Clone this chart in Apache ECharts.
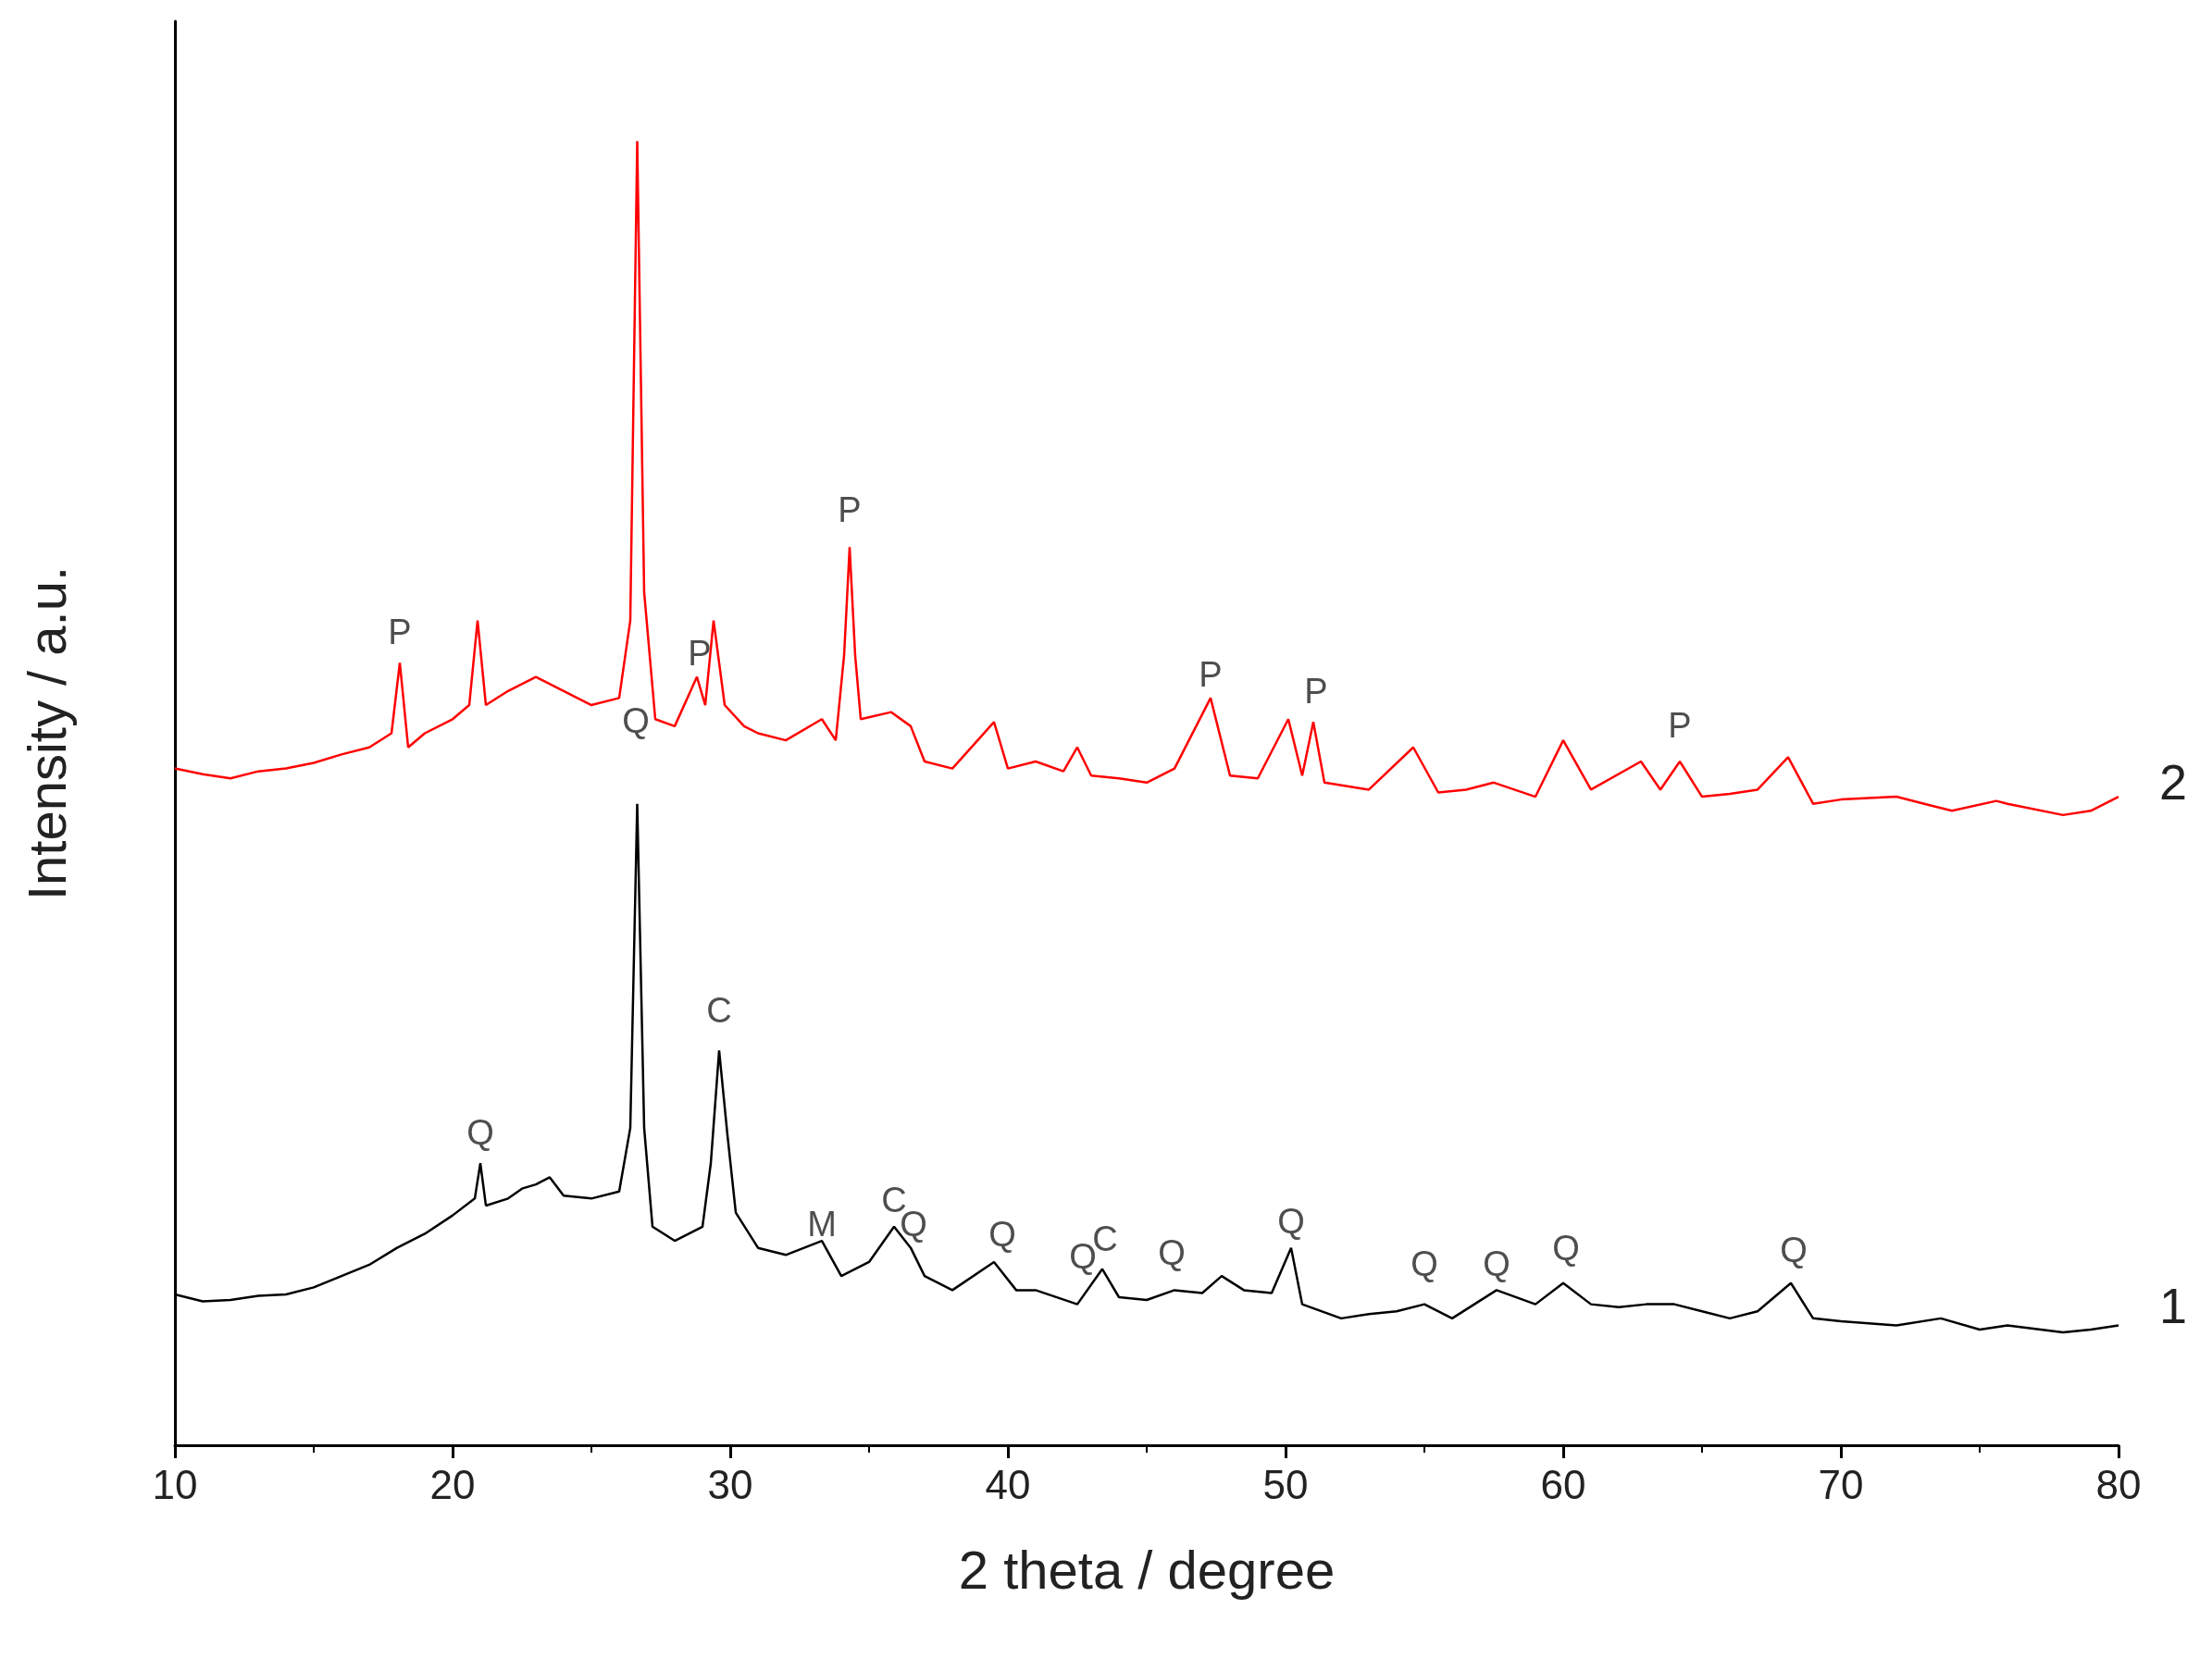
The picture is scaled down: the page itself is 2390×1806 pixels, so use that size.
<!DOCTYPE html>
<html><head><meta charset="utf-8">
<script src="https://cdn.jsdelivr.net/npm/echarts@6/dist/echarts.min.js"></script>
<style>html,body{margin:0;padding:0;background:#fff}#c{width:2390px;height:1806px}</style>
</head><body><div id="c"></div>
<script>
const sample1 = [[10,107],[11,102],[12,103],[13,106],[14,107],[15,112],[16,120],[17,128],[18,140],[19,150],[20,163],[20.8,175],[21,200],[21.2,170],[22,175],[22.5,182],[23,185],[23.5,190],[24,177],[25,175],[26,180],[26.4,225],[26.65,455],[26.9,225],[27.2,155],[28,145],[29,155],[29.3,200],[29.6,280],[29.9,220],[30.2,165],[31,140],[32,135],[33.3,145],[34,120],[35,130],[35.9,155],[36.5,140],[37,120],[38,110],[39.5,130],[40.3,110],[41,110],[42.5,100],[43.4,125],[44,105],[45,103],[46,110],[47,108],[47.7,120],[48.5,110],[49.5,108],[50.2,140],[50.6,100],[52,90],[53,93],[54,95],[55,100],[56,90],[57.6,110],[59,100],[60,115],[61,100],[62,98],[63,100],[64,100],[65,95],[66,90],[67,95],[68.2,115],[69,90],[70,88],[72,85],[73.6,90],[75,82],[76,85],[78,80],[79,82],[80,85]];
const sample2 = [[10,480],[11,476],[12,473],[13,478],[14,480],[15,484],[16,490],[17,495],[17.8,505],[18.1,555],[18.4,495],[19,505],[20,515],[20.6,525],[20.9,585],[21.2,525],[22,535],[23,545],[24,535],[25,525],[26,530],[26.4,585],[26.65,925],[26.9,605],[27.3,515],[28,510],[28.8,545],[29.1,525],[29.4,585],[29.8,525],[30.5,510],[31,505],[32,500],[33.3,515],[33.8,500],[34.1,560],[34.3,637],[34.5,560],[34.7,515],[35.8,520],[36.5,510],[37,485],[38,480],[39.5,513],[40,480],[41,485],[42,478],[42.5,495],[43,475],[44,473],[45,470],[46,480],[47.3,530],[48,475],[49,473],[50.1,515],[50.6,475],[51,513],[51.4,470],[53,465],[54.6,495],[55.5,463],[56.5,465],[57.5,470],[59,460],[60,500],[61,465],[62.8,485],[63.5,465],[64.2,485],[65,460],[66,462],[67,465],[68.1,488],[69,455],[70,458],[72,460],[73,455],[74,450],[75.6,457],[76,455],[78,447],[79,450],[80,460]];
const labels1 = [[21,220,'Q'],[26.6,512,'Q'],[29.6,307,'C'],[33.3,155,'M'],[35.9,172,'C'],[36.6,155,'Q'],[39.8,148,'Q'],[42.7,132,'Q'],[43.5,145,'C'],[45.9,135,'Q'],[50.2,157,'Q'],[55,127,'Q'],[57.6,127,'Q'],[60.1,138,'Q'],[68.3,137,'Q']];
const labels2 = [[18.1,575,'P'],[28.9,560,'P'],[34.3,662,'P'],[47.3,545,'P'],[51.1,533,'P'],[64.2,509,'P']];
const xTicks = [10,20,30,40,50,60,70,80];
const seriesNames = ['1','2'];

const chart = echarts.init(document.getElementById('c'));
const font = 'Liberation Sans, Arial, sans-serif';
function lab(arr){return {type:'scatter',data:arr.map(a=>({value:[a[0],a[1]],name:a[2]})),symbolSize:0,silent:true,
  label:{show:true,formatter:p=>p.name,fontSize:38,color:'#222',fontFamily:font,position:'inside'},z:5};}
chart.setOption({
  animation:false,
  grid:{left:189,right:101,top:23,bottom:244},
  xAxis:{type:'value',min:xTicks[0],max:xTicks[xTicks.length-1],interval:10,
    name:'2 theta / degree',nameLocation:'middle',nameGap:110,nameTextStyle:{fontSize:58,color:'#222',fontFamily:font},
    axisLine:{lineStyle:{color:'#000',width:3}},axisTick:{show:true,inside:false,length:14,lineStyle:{color:'#000',width:3}},
    minorTick:{show:true,splitNumber:2,length:8,lineStyle:{color:'#000',width:2}},
    axisLabel:{fontSize:44,color:'#222',fontFamily:font,margin:24},splitLine:{show:false}},
  yAxis:{type:'value',min:0,max:1010,name:'Intensity / a.u.',nameLocation:'middle',nameGap:105,nameRotate:90,
    nameTextStyle:{fontSize:58,color:'#222',fontFamily:font},
    axisLine:{show:true,lineStyle:{color:'#000',width:3}},axisTick:{show:false},axisLabel:{show:false},splitLine:{show:false}},
  series:[
    {type:'line',name:seriesNames[0],data:sample1,symbol:'none',lineStyle:{color:'#000',width:2.5}},
    {type:'line',name:seriesNames[1],data:sample2,symbol:'none',lineStyle:{color:'#f00',width:2.5}},
    lab(labels1),lab(labels2)
  ],
  graphic:[
    {type:'text',left:2333,top:1388,style:{text:seriesNames[0],fontSize:54,fill:'#222',fontFamily:font}},
    {type:'text',left:2333,top:822,style:{text:seriesNames[1],fontSize:54,fill:'#222',fontFamily:font}}
  ]
});
</script></body></html>
